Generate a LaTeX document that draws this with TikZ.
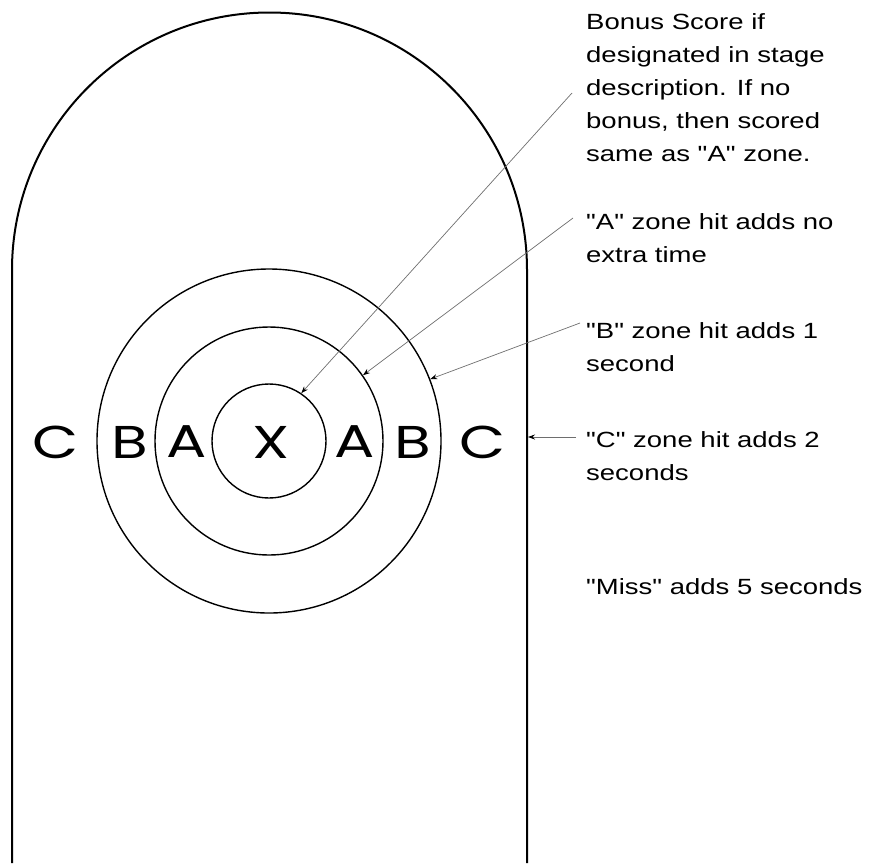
\documentclass[tikz,border=0pt]{standalone}
\usepackage{fontspec}
\usetikzlibrary{arrows.meta}
\newfontfamily\notefont[FakeStretch=1.25]{Liberation Sans}
\newfontfamily\zonefont[FakeStretch=1.3]{Poppins}
\definecolor{leadcol}{RGB}{110,110,110}

\begin{document}
\begin{tikzpicture}[x=1pt, y=-1pt,
    >={Stealth[length=7pt, width=5pt, color=black]},
    ring/.style={circle, draw, line width=1.4pt, inner sep=0pt},
    zone/.style={font=\zonefont\fontsize{46}{46}\selectfont},
    note/.style={anchor=north west, inner sep=0pt, align=left, font=\notefont\fontsize{22}{33}\selectfont},
    leader/.style={->, draw=leadcol, line width=0.7pt},
]
\useasboundingbox (0,0) rectangle (870,863);
\draw[line width=2pt] (12,863) -- (12,270) arc[start angle=180, end angle=360, radius=257.5] -- (527,863);

\foreach \n/\d in {ringX/114, ringA/228, ringB/344} {
    \node[ring, minimum size=\d pt] (\n) at (269,441) {};
}
\node[zone] (cLeft) at (56,442) {C};
\node[zone] (bLeft) at (130,442) {B};
\node[zone] (aLeft) at (187,442) {A};
\node[zone] (xMid) at (271,442) {X};
\node[zone] (aRight) at (355,442) {A};
\node[zone] (bRight) at (413,442) {B};
\node[zone] (cRight) at (483,442) {C};

\node[note] (bonusNote) at (586,13) {Bonus Score if\\designated in stage\\description. If no\\bonus, then scored\\same as "A" zone.};
\node[note] (aNote) at (586,213) {"A" zone hit adds no\\extra time};
\node[note] (bNote) at (586,322) {"B" zone hit adds 1\\second};
\node[note] (cNote) at (586,431) {"C" zone hit adds 2\\seconds};
\node[note] (missNote) at (586,578) {"Miss" adds 5 seconds};

\coordinate (bonusTail) at (572,93);
\coordinate (aTail) at (573,218);
\coordinate (bTail) at (580,323);
\coordinate (cTail) at (576,437);
\coordinate (wall) at (528,437);
\draw[leader] (bonusTail) -- (ringX.56);
\draw[leader] (aTail) -- (ringA.35);
\draw[leader] (bTail) -- (ringB.21);
\draw[leader] (cTail) -- (wall);
\end{tikzpicture}
\end{document}
